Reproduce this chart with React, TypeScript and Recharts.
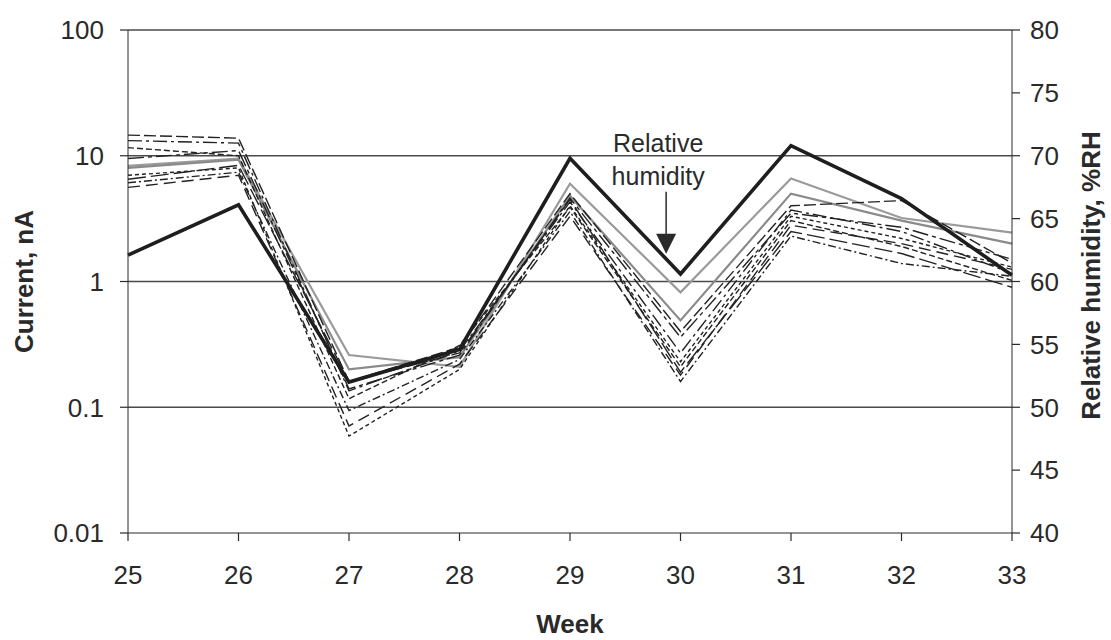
import { LineChart, Line, XAxis, YAxis, ReferenceLine, ReferenceDot, Label } from "recharts";

const weeks = [25, 26, 27, 28, 29, 30, 31, 32, 33];

// relative humidity, %RH (right axis)
const humidity = [62.1, 66.1, 52.0, 54.6, 69.8, 60.6, 70.8, 66.6, 60.5];

// leakage currents, nA (left axis, log)
const gray1 = [8.3, 9.5, 0.26, 0.21, 6.0, 0.82, 6.6, 3.2, 2.45];
const gray2 = [8.0, 9.3, 0.2, 0.25, 4.8, 0.49, 5.0, 3.05, 2.0];
const cur1 = [14.6, 13.8, 0.16, 0.3, 5.0, 0.4, 4.0, 4.4, 1.4];
const cur2 = [13.2, 12.6, 0.135, 0.28, 4.3, 0.27, 3.7, 2.5, 1.16];
const cur3 = [11.6, 10, 0.117, 0.31, 3.9, 0.21, 3.05, 1.9, 1.02];
const cur4 = [6.5, 8.4, 0.16, 0.27, 4.5, 0.19, 2.5, 1.67, 0.9];
const cur5 = [6.1, 7.4, 0.094, 0.24, 3.6, 0.16, 2.3, 1.39, 1.1];
const cur6 = [5.6, 7.0, 0.071, 0.22, 3.3, 0.18, 2.8, 2.0, 1.25];
const cur7 = [7.0, 8.0, 0.059, 0.2, 4.0, 0.23, 3.3, 2.2, 1.3];
const cur8 = [9.5, 11, 0.14, 0.26, 4.6, 0.36, 3.5, 2.7, 1.5];

const currentTicks = [0.01, 0.1, 1, 10, 100];
const rhTicks = [40, 45, 50, 55, 60, 65, 70, 75, 80];
const gridLevels = [100, 10, 1, 0.1];

const dashed = [
  { key: "c1", values: cur1, dash: "12 4" },
  { key: "c2", values: cur2, dash: "14 4 3 4" },
  { key: "c3", values: cur3, dash: "6 3" },
  { key: "c4", values: cur4, dash: "18 5" },
  { key: "c5", values: cur5, dash: "8 3 2 3" },
  { key: "c6", values: cur6, dash: "12 6" },
  { key: "c7", values: cur7, dash: "4 3" },
  { key: "c8", values: cur8, dash: "16 4 4 4" },
];

const data = weeks.map((week, i) => {
  const row: Record<string, number> = { week, rh: humidity[i], g1: gray1[i], g2: gray2[i] };
  dashed.forEach((d) => {
    row[d.key] = d.values[i];
  });
  return row;
});

const FONT = '"Liberation Sans", Arial, sans-serif';
const INK = "#2a2a2a";
const TICK_SIZE = 26;

function LeftTick({ x, y, payload }: any) {
  return (
    <text x={x} y={y} dy="0.36em" textAnchor="end" fontSize={TICK_SIZE} fontFamily={FONT} fill={INK}>
      {String(payload.value)}
    </text>
  );
}

function RightTick({ x, y, payload }: any) {
  return (
    <text x={x} y={y} dy="0.36em" textAnchor="start" fontSize={TICK_SIZE} fontFamily={FONT} fill={INK}>
      {payload.value}
    </text>
  );
}

function BottomTick({ x, y, payload }: any) {
  return (
    <text x={x} y={y} dy="0.71em" textAnchor="middle" fontSize={TICK_SIZE} fontFamily={FONT} fill={INK}>
      {payload.value}
    </text>
  );
}

function HumidityArrow({ cx, cy }: any) {
  return (
    <g>
      <line x1={cx} x2={cx} y1={cy - 67} y2={cy - 24} stroke={INK} strokeWidth={1.5} />
      <polygon points={`${cx - 10},${cy - 25} ${cx + 10},${cy - 25} ${cx},${cy - 5}`} fill={INK} />
      <text x={cx - 8} y={cy - 107} textAnchor="middle" fontSize={25} fontFamily={FONT} fill={INK}>
        Relative
      </text>
      <text x={cx - 8} y={cy - 74} textAnchor="middle" fontSize={25} fontFamily={FONT} fill={INK}>
        humidity
      </text>
    </g>
  );
}

export default function App() {
  return (
    <div style={{ position: "absolute", left: 0, top: 0, width: 1111, height: 640, background: "#fff" }}>
      <LineChart width={1111} height={640} data={data} margin={{ top: 30, right: 0, bottom: 0, left: 0 }}>
        <XAxis
          dataKey="week"
          type="number"
          domain={[25, 33]}
          ticks={weeks}
          height={107}
          stroke={INK}
          tickLine={{ stroke: INK, strokeWidth: 1.2 }}
          tickSize={8}
          tickMargin={25}
          tick={<BottomTick />}
        >
          <Label
            content={({ viewBox }: any) => (
              <text
                x={viewBox.x + viewBox.width / 2}
                y={633}
                textAnchor="middle"
                fontSize={26}
                fontWeight="bold"
                fontFamily={FONT}
                fill={INK}
              >
                Week
              </text>
            )}
          />
        </XAxis>
        <YAxis
          yAxisId="cur"
          scale="log"
          domain={[0.01, 100]}
          allowDataOverflow
          ticks={currentTicks}
          width={128}
          stroke={INK}
          tickLine={{ stroke: INK, strokeWidth: 1.2 }}
          tickSize={8}
          tickMargin={16}
          tick={<LeftTick />}
        >
          <Label
            content={({ viewBox }: any) => {
              const cy = viewBox.y + viewBox.height / 2;
              return (
                <text
                  x={24}
                  y={cy}
                  transform={`rotate(-90 24 ${cy})`}
                  textAnchor="middle"
                  dominantBaseline="central"
                  fontSize={26}
                  fontWeight="bold"
                  fontFamily={FONT}
                  fill={INK}
                >
                  Current, nA
                </text>
              );
            }}
          />
        </YAxis>
        <YAxis
          yAxisId="rh"
          orientation="right"
          domain={[40, 80]}
          ticks={rhTicks}
          width={99}
          stroke={INK}
          tickLine={{ stroke: INK, strokeWidth: 1.2 }}
          tickSize={8}
          tickMargin={10}
          tick={<RightTick />}
        >
          <Label
            content={({ viewBox }: any) => {
              const cx = viewBox.x + 79;
              const cy = viewBox.y + viewBox.height / 2 - 6;
              return (
                <text
                  x={cx}
                  y={cy}
                  transform={`rotate(-90 ${cx} ${cy})`}
                  textAnchor="middle"
                  dominantBaseline="central"
                  fontSize={26}
                  fontWeight="bold"
                  fontFamily={FONT}
                  fill={INK}
                >
                  Relative humidity, %RH
                </text>
              );
            }}
          />
        </YAxis>

        {gridLevels.map((v) => (
          <ReferenceLine key={v} yAxisId="cur" y={v} stroke="#4a4a4a" strokeWidth={1.3} />
        ))}

        <Line yAxisId="cur" dataKey="g1" stroke="#9a9a9a" strokeWidth={2.2} dot={false} isAnimationActive={false} />
        <Line yAxisId="cur" dataKey="g2" stroke="#8a8a8a" strokeWidth={2.2} dot={false} isAnimationActive={false} />
        {dashed.map((d) => (
          <Line
            key={d.key}
            yAxisId="cur"
            dataKey={d.key}
            stroke="#222"
            strokeWidth={1.4}
            strokeDasharray={d.dash}
            dot={false}
            isAnimationActive={false}
          />
        ))}
        <Line yAxisId="rh" dataKey="rh" stroke="#1e1e1e" strokeWidth={3.6} dot={false} isAnimationActive={false} />

        <ReferenceDot yAxisId="rh" x={29.87} y={61.8} r={0} shape={<HumidityArrow />} />
      </LineChart>
    </div>
  );
}
